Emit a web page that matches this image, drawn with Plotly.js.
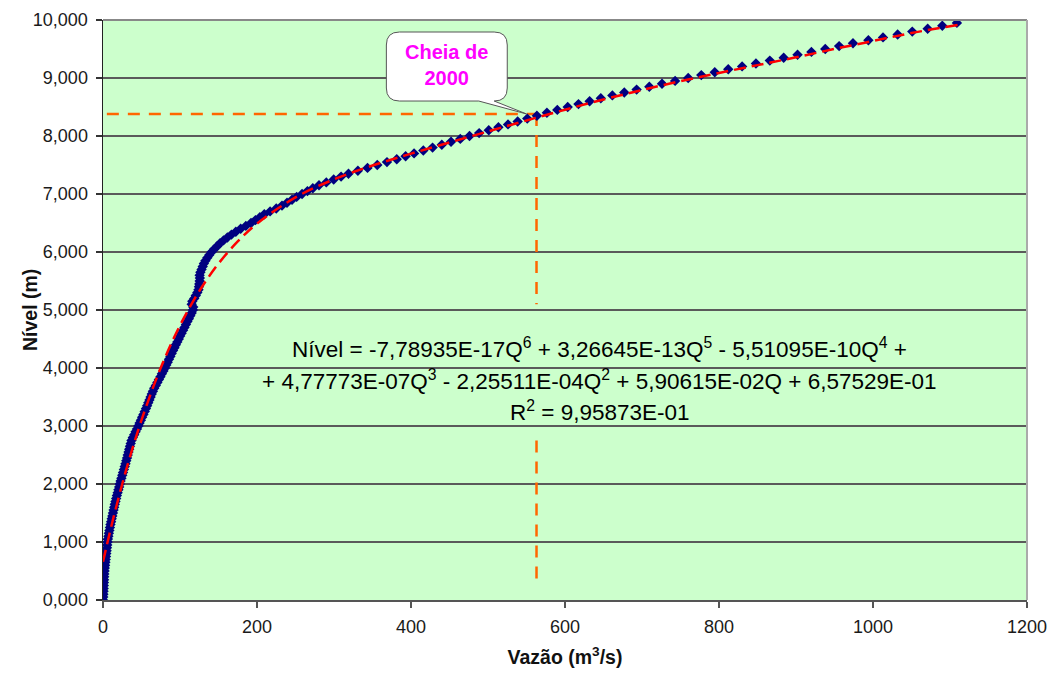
<!DOCTYPE html>
<html>
<head>
<meta charset="utf-8">
<script src="https://cdn.plot.ly/plotly-3.0.1.min.js"></script>
<style>html,body{margin:0;padding:0;background:#fff;}#chart{width:1047px;height:675px;}</style>
</head>
<body>
<div id="chart"></div>
<script>
var nivelObs = [0,0.05,0.1,0.15,0.2,0.25,0.3,0.35,0.4,0.45,0.5,0.55,0.6,0.65,0.7,0.75,0.8,0.85,0.9,0.95,
1,1.05,1.1,1.15,1.2,1.25,1.3,1.35,1.4,1.45,1.5,1.55,1.6,1.65,1.7,1.75,1.8,1.85,1.9,1.95,
2,2.05,2.1,2.15,2.2,2.25,2.3,2.35,2.4,2.45,2.5,2.55,2.6,2.65,2.7,2.75,2.8,2.85,2.9,2.95,
3,3.05,3.1,3.15,3.2,3.25,3.3,3.35,3.4,3.45,3.5,3.55,3.6,3.65,3.7,3.75,3.8,3.85,3.9,3.95,
4,4.05,4.1,4.15,4.2,4.25,4.3,4.35,4.4,4.45,4.5,4.55,4.6,4.65,4.7,4.75,4.8,4.85,4.9,4.95,
5,5.05,5.1,5.15,5.2,5.25,5.3,5.35,5.4,5.45,5.5,5.55,5.6,5.65,5.7,5.75,5.8,5.85,5.9,5.95,
6,6.05,6.1,6.15,6.2,6.25,6.3,6.35,6.4,6.45,6.5,6.55,6.6,6.65,6.7,6.75,6.8,6.85,6.9,6.95,
7,7.05,7.1,7.15,7.2,7.25,7.3,7.35,7.4,7.45,7.5,7.55,7.6,7.65,7.7,7.75,7.8,7.85,7.9,7.95,
8,8.05,8.1,8.15,8.2,8.25,8.3,8.35,8.4,8.45,8.5,8.55,8.6,8.65,8.7,8.75,8.8,8.85,8.9,8.95,
9,9.05,9.1,9.15,9.2,9.25,9.3,9.35,9.4,9.45,9.5,9.55,9.6,9.65,9.7,9.75,9.8,9.85,9.9,9.95];
var vazaoObs = [0,0.3,0.5,0.7,0.9,1.0,1.2,1.4,1.5,1.7,2.0,2.3,2.7,3.1,3.5,3.9,4.3,4.7,5.1,5.5,
5.9,6.4,7.0,7.6,8.3,9.0,9.7,10.5,11.3,12.1,12.9,13.7,14.5,15.3,16.2,17.1,18.0,19.0,20.0,21.0,
21.8,22.8,23.9,25.0,26.0,27.1,28.2,29.2,30.2,31.2,32.1,33.1,34.0,35.0,36.0,37.0,38.7,40.5,42.3,44.1,
45.9,47.5,49.2,50.8,52.5,54.2,55.8,57.3,58.8,60.3,61.8,63.3,64.8,66.5,68.6,70.6,72.6,74.6,76.5,78.5,
80.5,82.2,84.0,85.7,87.5,89.2,91.0,92.8,94.6,96.5,98.4,100.2,102.1,104.0,105.8,107.7,109.6,111.5,113.4,115.2,
116.8,117.2,115.2,116.0,118.5,120.5,122.5,124.0,124.6,125.0,125.5,125.8,125.5,126.5,128.0,129.5,131.0,133.0,135.5,138.0,
141.0,144.5,148.2,152.0,156.5,161.5,166.8,172.5,178.8,185.5,192.2,198.0,203.7,209.5,217.0,225.0,232.5,239.0,245.5,251.5,
258.5,265.5,272.5,280.5,290.0,299.6,309.2,318.8,331.0,343.5,356.2,368.8,381.5,393.0,404.0,416,428,440,452,464,
476,488.5,501,513.5,526,538.5,551,563.5,576.5,590,603.5,617.5,632,646.5,661.5,677,693,709.5,726,743,
760,777,794.5,812,830,848,866,884,902,920,938,956,974,994,1013,1032,1051,1071,1090,1109];

// Polynomial trendline (values of the fitted curve)
var vazaoFit = [0,5,10,15,25,35,50,75,100,125,150,175,200,250,300,350,400,450,500,550,600,650,700,750,800,850,900,950,1000,1050,1110];
var nivelFit = [0.658,0.947,1.226,1.494,2.000,2.468,3.103,4.004,4.734,5.325,5.800,6.182,6.489,6.941,7.253,7.491,7.696,7.889,8.079,8.268,8.454,8.629,8.793,8.945,9.087,9.222,9.357,9.501,9.638,9.775,9.913];

// Flood of 2000 reference
var cheiaVazao = 563;
var cheiaNivel = 8.38;
var gapTop = 5.1, gapBottom = 2.75, vertEnd = 0.25, horizStart = 5;

var yTickVals = [0,1,2,3,4,5,6,7,8,9,10];
var xTickVals = [0,200,400,600,800,1000,1200];

var FONT = 'Liberation Sans, Arial, sans-serif';
var orange = '#FF6600';

var traces = [
  {x:[horizStart,cheiaVazao], y:[cheiaNivel,cheiaNivel], mode:'lines', line:{color:orange,width:2.5,dash:'12px,9px'}, hoverinfo:'skip'},
  {x:[cheiaVazao,cheiaVazao], y:[cheiaNivel,gapTop], mode:'lines', line:{color:orange,width:2.5,dash:'12px,9px'}, hoverinfo:'skip'},
  {x:[cheiaVazao,cheiaVazao], y:[gapBottom,vertEnd], mode:'lines', line:{color:orange,width:2.5,dash:'12px,9px'}, hoverinfo:'skip'},
  {x:vazaoObs, y:nivelObs, mode:'markers', marker:{symbol:'diamond', size:8, color:'#000080', line:{width:0}}, hoverinfo:'skip'},
  {x:vazaoFit, y:nivelFit, mode:'lines', line:{color:'#FF0000', width:2.5, dash:'12px,6px', shape:'spline'}, hoverinfo:'skip'}
];

// callout (rounded box with tail) in data coordinates
var bx0=368, bx1=525, by0=8.603, by1=9.793, rq=17, rh=0.224;
var calloutPath = 'M '+(bx0+rq)+','+by1+' L '+(bx1-rq)+','+by1+' Q '+bx1+','+by1+' '+bx1+','+(by1-rh)+
 ' L '+bx1+','+(by0+rh)+' Q '+bx1+','+by0+' '+(bx1-rq)+','+by0+' L 550,'+cheiaNivel+' L 488,'+by0+
 ' L '+(bx0+rq)+','+by0+' Q '+bx0+','+by0+' '+bx0+','+(by0+rh)+' L '+bx0+','+(by1-rh)+' Q '+bx0+','+by1+' '+(bx0+rq)+','+by1+' Z';

var layout = {
  width:1047, height:675,
  margin:{l:103, r:20, t:20, b:75},
  paper_bgcolor:'#FFFFFF', plot_bgcolor:'#CCFFCC',
  separators:',.',
  showlegend:false,
  font:{family:FONT, color:'#111'},
  xaxis:{range:[0,1200], tickvals:xTickVals, tickformat:'d', showgrid:false, zeroline:false,
    showline:true, linecolor:'#555', linewidth:1.5, ticks:'outside', ticklen:6, tickcolor:'#555', tickwidth:1.5,
    tickfont:{size:18, family:FONT, color:'#1a1a1a'}, ticklabelstandoff:4, ticklabeloverflow:'allow',
    title:{text:'Vazão (m<sup>3</sup>/s)', font:{size:19.5, family:FONT, color:'#111', weight:'bold'}, standoff:14}},
  yaxis:{range:[0,10], tickvals:yTickVals, tickformat:'.3f', showgrid:true, gridcolor:'#5A5A5A', gridwidth:1.5, zeroline:false,
    showline:true, linecolor:'#222', linewidth:1.5, ticks:'outside', ticklen:6, tickcolor:'#333', tickwidth:1.5,
    tickfont:{size:18, family:FONT, color:'#1a1a1a'}, ticklabelstandoff:4, ticklabeloverflow:'allow'},
  shapes:[
    {type:'line', xref:'paper', yref:'paper', x0:0, x1:1, y0:1, y1:1, line:{color:'#888', width:2}},
    {type:'line', xref:'paper', yref:'paper', x0:1, x1:1, y0:0, y1:1, line:{color:'#AAA', width:2}},
    {type:'path', xref:'x', yref:'y', path:calloutPath, fillcolor:'#FFFFFF', line:{color:'#555', width:1}, layer:'above'}
  ],
  annotations:[
    {x:-0.079, y:0.5, xref:'paper', yref:'paper', xanchor:'center', yanchor:'middle', textangle:-90, showarrow:false,
     text:'<b>Nível (m)</b>', font:{size:19.5, family:FONT, color:'#111'}},
    {x:446, y:9.22, xref:'x', yref:'y', text:'<b>Cheia de<br>2000</b>', showarrow:false,
     font:{size:20, family:FONT, color:'#FF00FF'}},
    {x:645, y:4.35, xref:'x', yref:'y', showarrow:false, font:{size:22.5, family:FONT, color:'#000'},
     text:'Nível = -7,78935E-17Q<sup>6</sup> + 3,26645E-13Q<sup>5</sup> - 5,51095E-10Q<sup>4</sup> +'},
    {x:645, y:3.80, xref:'x', yref:'y', showarrow:false, font:{size:22.5, family:FONT, color:'#000'},
     text:'+ 4,77773E-07Q<sup>3</sup> - 2,25511E-04Q<sup>2</sup> + 5,90615E-02Q + 6,57529E-01'},
    {x:645, y:3.26, xref:'x', yref:'y', showarrow:false, font:{size:22.5, family:FONT, color:'#000'},
     text:'R<sup>2</sup> = 9,95873E-01'}
  ]
};

Plotly.newPlot('chart', traces, layout, {staticPlot:true, displayModeBar:false});
</script>
</body>
</html>
